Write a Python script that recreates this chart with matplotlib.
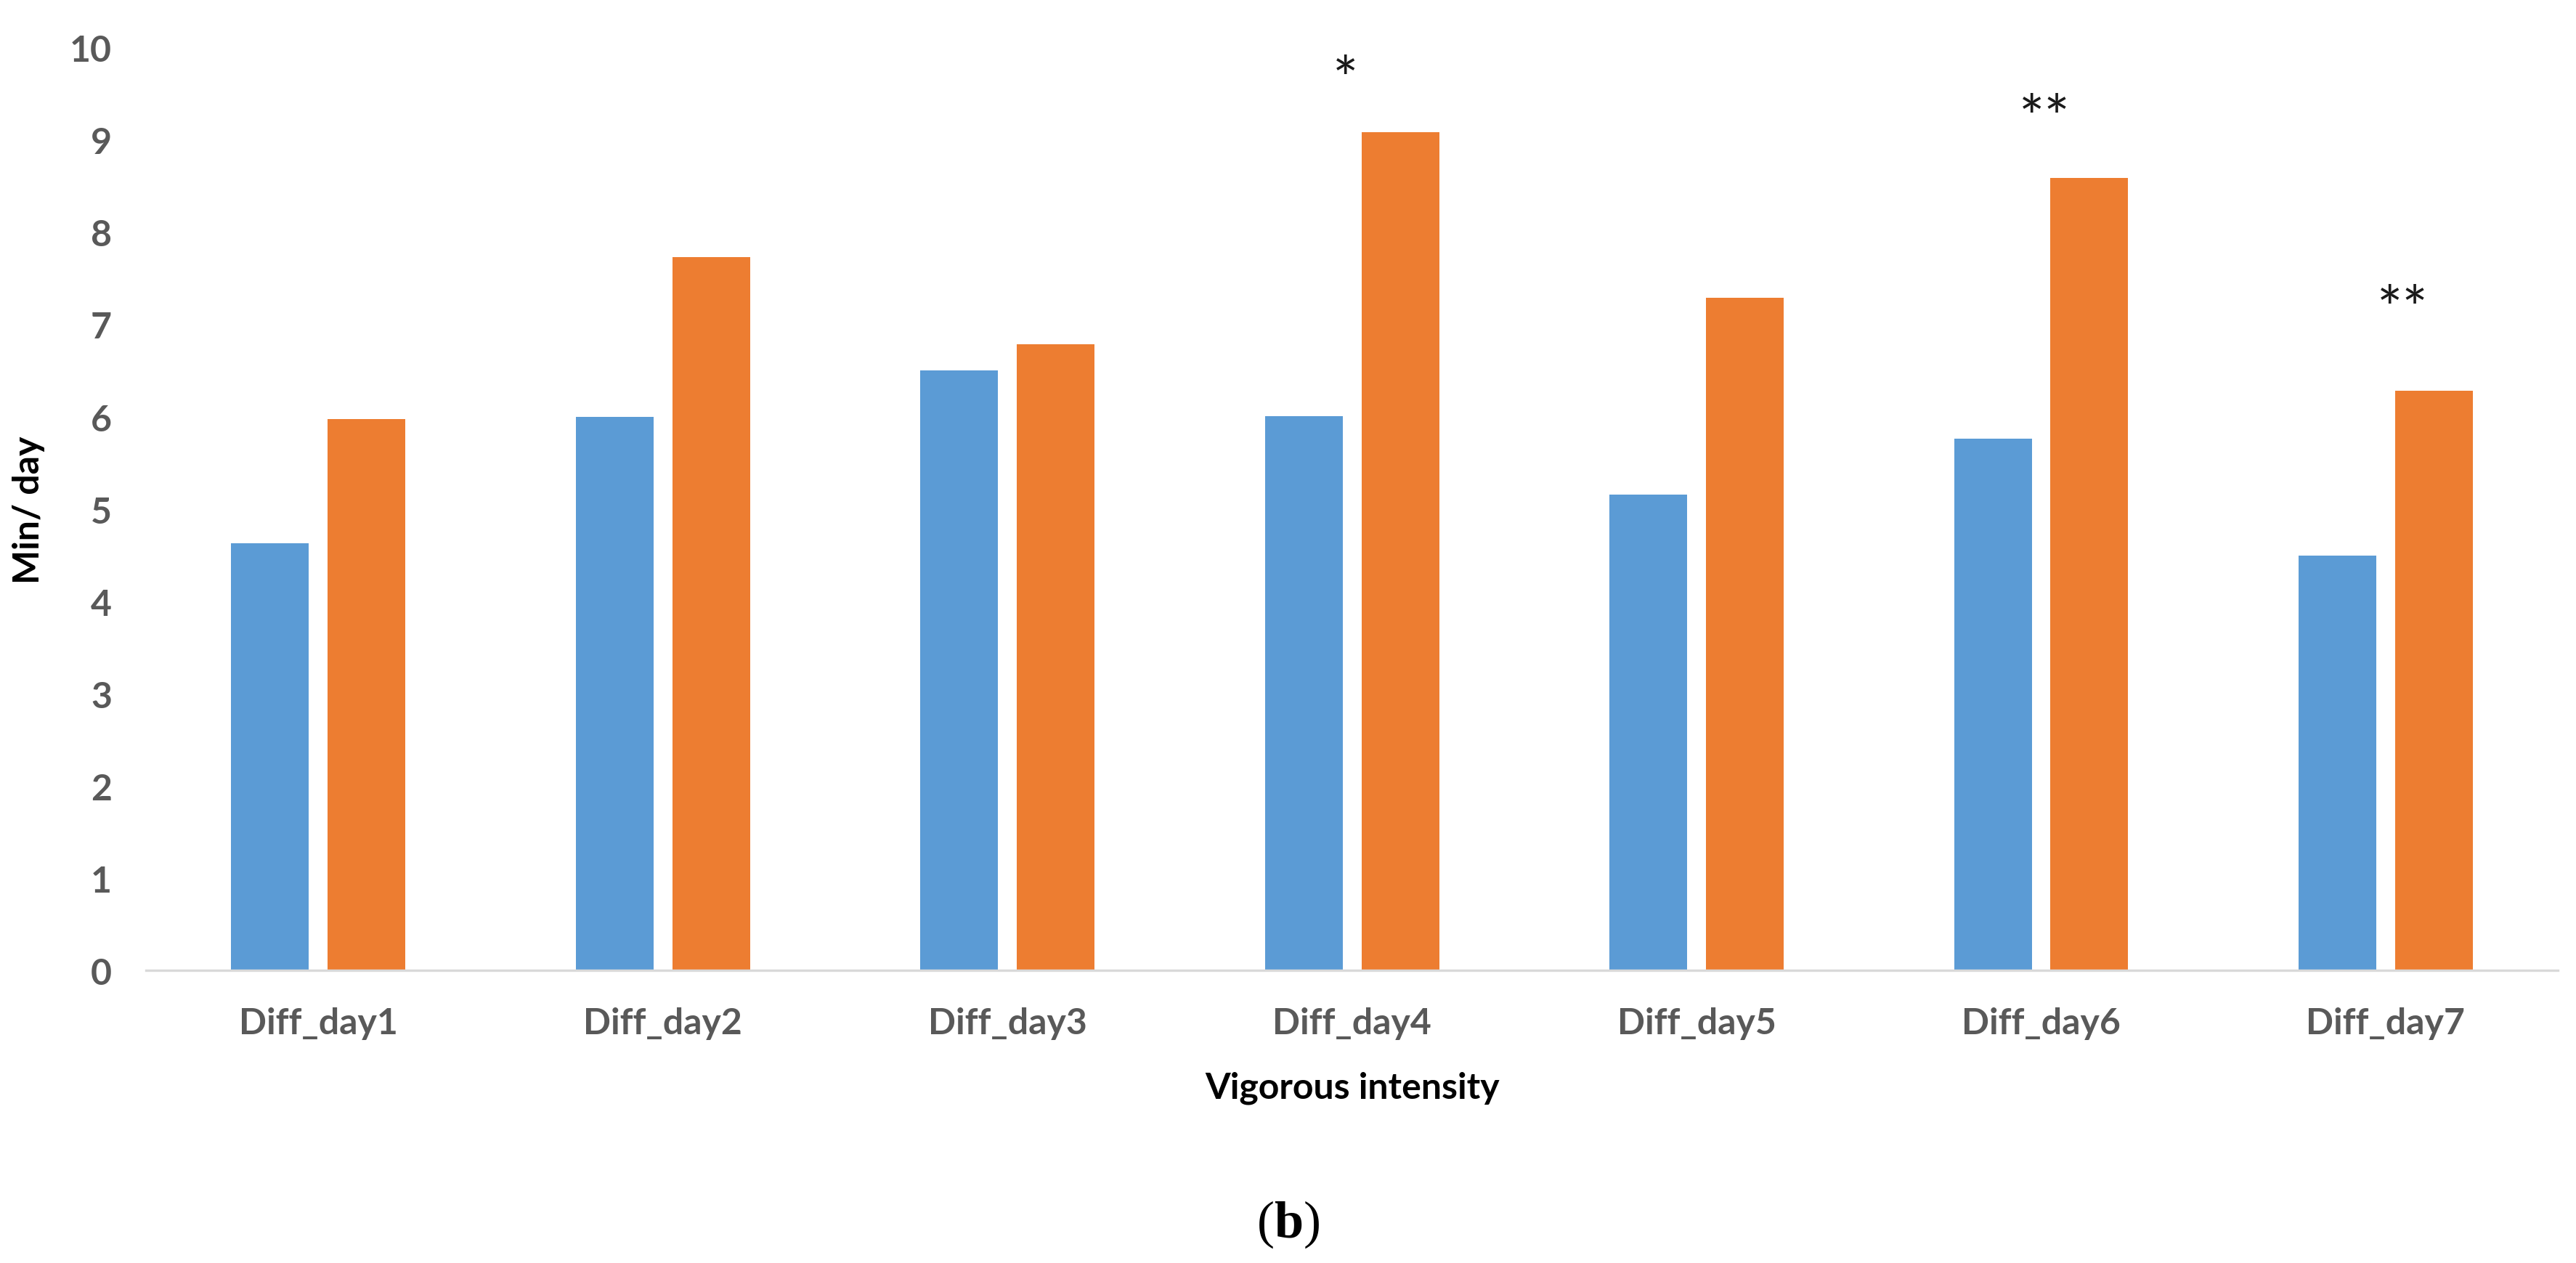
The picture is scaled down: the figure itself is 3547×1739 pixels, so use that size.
import matplotlib
matplotlib.use('Agg')
import matplotlib.pyplot as plt
import numpy as np

# data
days = ['Diff_day1', 'Diff_day2', 'Diff_day3', 'Diff_day4', 'Diff_day5', 'Diff_day6', 'Diff_day7']
blue_vals = [4.63, 6.00, 6.50, 6.01, 5.16, 5.76, 4.50]
orange_vals = [5.98, 7.73, 6.79, 9.09, 7.29, 8.59, 6.28]

# significance marks (centre of the mark, in data units)
star_labels = ['', '', '', '*', '', '**', '**']
star_y = [0, 0, 0, 9.82, 0, 9.40, 7.33]
star_dx = [0, 0, 0, -0.02, 0, 0.01, 0.05]

yticks = list(range(0, 11))

plt.rcParams['font.family'] = ['Lato', 'DejaVu Sans']

fig = plt.figure(figsize=(17.74, 8.70), dpi=200)
ax = fig.add_axes([0.0567, 0.2316, 0.9360, 0.7299])

x = np.arange(len(days))
w = 0.2255
off = 0.140
ax.bar(x - off, blue_vals, width=w, color='#5B9BD5', zorder=2)
ax.bar(x + off, orange_vals, width=w, color='#ED7D31', zorder=2)

for i in range(len(days)):
    if star_labels[i]:
        ax.annotate(star_labels[i], (x[i] + star_dx[i], star_y[i]),
                    xytext=(0, -9), textcoords='offset points',
                    ha='center', va='center', fontsize=30, color='#1a1a1a')

ax.set_xlim(-0.5, len(days) - 0.5)
ax.set_ylim(0, 10)
ax.set_yticks(yticks)
ax.set_yticklabels([str(t) for t in yticks])
ax.set_xticks(x)
ax.set_xticklabels(days)

for s in ['top', 'right', 'left']:
    ax.spines[s].set_visible(False)
ax.spines['bottom'].set_color('#D9D9D9')
ax.spines['bottom'].set_linewidth(1.2)

ax.tick_params(axis='both', length=0, labelsize=18, labelcolor='#595959')
ax.tick_params(axis='x', pad=18)
ax.tick_params(axis='y', pad=17)
for lab in ax.get_xticklabels() + ax.get_yticklabels():
    lab.set_fontweight('bold')

ax.text(0.5, -0.127, 'Vigorous intensity', transform=ax.transAxes, ha='center', va='center',
        fontsize=18, fontweight='bold', color='black')
ax.text(-0.0488, 0.5, 'Min/ day', transform=ax.transAxes, ha='center', va='center',
        rotation=90, fontsize=18, fontweight='bold', color='black')

# panel label (b)
plt.rcParams['mathtext.fontset'] = 'custom'
plt.rcParams['mathtext.bf'] = 'Liberation Serif:bold'
fig.text(0.5, 1 - 1686 / 1740, r'($\mathbf{b}$)', ha='center', va='center',
         fontsize=26, family='Liberation Serif', color='black')

plt.savefig('out.png', dpi=200)
